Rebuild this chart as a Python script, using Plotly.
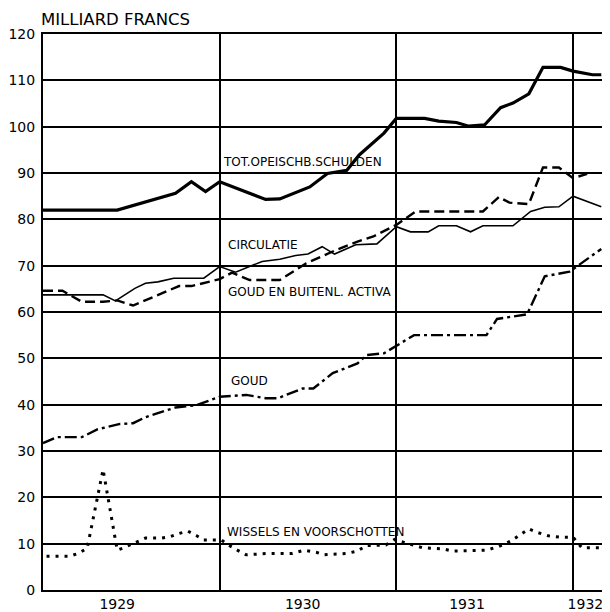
import plotly.graph_objects as go

# ---- data (fractional years, milliard francs) ----
schulden_x = [1929.00, 1929.42, 1929.75, 1929.84, 1929.92, 1930.00, 1930.26, 1930.34, 1930.51,
              1930.61, 1930.72, 1930.79, 1930.93, 1931.00, 1931.16, 1931.24, 1931.34, 1931.41,
              1931.50, 1931.59, 1931.66, 1931.75, 1931.83, 1931.93, 1932.00, 1932.11, 1932.16]
schulden_y = [82.0, 82.0, 85.6, 88.1, 86.0, 88.1, 84.3, 84.4, 87.0,
              89.9, 90.6, 93.9, 98.6, 101.8, 101.8, 101.2, 100.9, 100.1,
              100.4, 104.1, 105.1, 107.1, 112.8, 112.8, 112.0, 111.2, 111.2]

circ_x = [1929.00, 1929.34, 1929.41, 1929.52, 1929.58, 1929.65, 1929.74, 1929.91, 1930.00,
          1930.09, 1930.24, 1930.34, 1930.43, 1930.50, 1930.58, 1930.65, 1930.77, 1930.89,
          1931.00, 1931.08, 1931.18, 1931.24, 1931.34, 1931.42, 1931.49, 1931.66, 1931.76,
          1931.84, 1931.92, 1932.00, 1932.16]
circ_y = [63.7, 63.7, 62.4, 65.1, 66.2, 66.5, 67.3, 67.3, 69.8,
          68.6, 70.9, 71.4, 72.2, 72.5, 74.1, 72.5, 74.5, 74.7,
          78.4, 77.3, 77.3, 78.6, 78.6, 77.3, 78.6, 78.6, 81.7,
          82.6, 82.7, 85.0, 82.7]

activa_x = [1929.00, 1929.11, 1929.22, 1929.34, 1929.42, 1929.51, 1929.77, 1929.84, 1929.96,
            1930.00, 1930.07, 1930.17, 1930.34, 1930.49, 1930.66, 1930.78, 1930.87, 1931.00,
            1931.11, 1931.49, 1931.58, 1931.64, 1931.75, 1931.83, 1931.92, 1932.00, 1932.08]
activa_y = [64.6, 64.6, 62.2, 62.2, 62.5, 61.4, 65.6, 65.6, 66.7,
            67.1, 68.5, 66.9, 66.9, 70.5, 73.4, 75.2, 76.3, 78.8,
            81.7, 81.7, 84.8, 83.6, 83.3, 91.2, 91.2, 88.9, 89.8]

goud_x = [1929.00, 1929.08, 1929.22, 1929.31, 1929.43, 1929.51, 1929.58, 1929.75, 1929.87,
          1930.00, 1930.15, 1930.26, 1930.33, 1930.47, 1930.53, 1930.64, 1930.78, 1930.83,
          1930.93, 1931.01, 1931.10, 1931.51, 1931.57, 1931.74, 1931.84, 1931.98, 1932.04,
          1932.16]
goud_y = [31.7, 33.0, 33.0, 34.7, 35.8, 36.0, 37.3, 39.4, 39.9,
          41.7, 42.1, 41.4, 41.4, 43.5, 43.5, 46.8, 48.9, 50.7,
          51.1, 53.0, 55.0, 55.0, 58.5, 59.5, 67.7, 68.7, 70.3,
          73.6]

wissels_x = [1929.02, 1929.15, 1929.20, 1929.25, 1929.34, 1929.42, 1929.45, 1929.53, 1929.58,
             1929.67, 1929.72, 1929.77, 1929.82, 1929.87, 1929.91, 1930.01, 1930.05, 1930.10,
             1930.15, 1930.28, 1930.41, 1930.48, 1930.55, 1930.59, 1930.72, 1930.78, 1930.83,
             1930.94, 1930.99, 1931.04, 1931.10, 1931.15, 1931.26, 1931.32, 1931.51, 1931.58,
             1931.65, 1931.70, 1931.75, 1931.80, 1931.86, 1931.93, 1932.00, 1932.05, 1932.16]
wissels_y = [7.3, 7.3, 7.9, 9.0, 26.0, 8.6, 9.0, 10.4, 11.2,
             11.2, 11.5, 12.2, 12.7, 11.7, 10.8, 10.8, 9.7, 8.6,
             7.6, 7.9, 7.9, 8.6, 8.1, 7.6, 7.9, 8.4, 9.6,
             9.7, 10.9, 10.3, 9.6, 9.1, 8.9, 8.4, 8.6, 9.4,
             10.6, 11.9, 13.2, 12.4, 11.7, 11.4, 11.4, 9.1, 9.1]

year_labels = ["1929", "1930", "1931", "1932"]
year_label_pos = [1929.42, 1930.47, 1931.40, 1932.07]
year_bounds = [1930, 1931, 1932]
y_ticks = list(range(0, 121, 10))

series_labels = [
    ("TOT.OPEISCHB.SCHULDEN", 1930.005, 92.4),
    ("CIRCULATIE", 1930.035, 74.5),
    ("GOUD EN BUITENL. ACTIVA", 1930.035, 64.4),
    ("GOUD", 1930.05, 45.1),
    ("WISSELS EN VOORSCHOTTEN", 1930.03, 12.6),
]

FONT = "DejaVu Sans"

fig = go.Figure()
fig.add_trace(go.Scatter(x=schulden_x, y=schulden_y, mode="lines",
                         line=dict(color="black", width=3.2)))
fig.add_trace(go.Scatter(x=circ_x, y=circ_y, mode="lines",
                         line=dict(color="black", width=1.6)))
fig.add_trace(go.Scatter(x=activa_x, y=activa_y, mode="lines",
                         line=dict(color="black", width=2.4, dash="10px,5px")))
fig.add_trace(go.Scatter(x=goud_x, y=goud_y, mode="lines",
                         line=dict(color="black", width=2.4, dash="12px,4px,3px,4px")))
fig.add_trace(go.Scatter(x=wissels_x, y=wissels_y, mode="lines",
                         line=dict(color="black", width=3, dash="3px,6px")))

for text, x, y in series_labels:
    fig.add_annotation(x=x, y=y, text=text, showarrow=False, xanchor="left",
                       yanchor="middle", font=dict(family=FONT, size=12, color="black"))

fig.add_annotation(x=0, y=1, xref="paper", yref="paper", text="MILLIARD FRANCS",
                   showarrow=False, xanchor="left", yanchor="bottom", yshift=3, xshift=-4,
                   font=dict(family=FONT, size=16.5, color="black"))

# page body adds an 8px offset, so the figure is 8px smaller and margins shifted
fig.update_layout(
    template="none",
    width=602, height=604,
    margin=dict(l=35, r=8, t=26, b=22, autoexpand=False),
    paper_bgcolor="white", plot_bgcolor="white",
    showlegend=False,
    xaxis=dict(range=[1929, 1932.164], tickmode="array", tickvals=year_label_pos,
               ticktext=year_labels, showgrid=False, zeroline=False, ticks="",
               automargin=False,
               showline=True, linecolor="black", linewidth=2, mirror=True,
               tickfont=dict(family=FONT, size=14, color="black"),
               minor=dict(tickmode="array", tickvals=year_bounds, showgrid=True,
                          gridcolor="black", gridwidth=2, ticks="")),
    yaxis=dict(range=[0, 120], tickmode="array", tickvals=y_ticks,
               showgrid=True, gridcolor="black", gridwidth=1.8, zeroline=False, ticks="",
               automargin=False, ticklabelstandoff=3,
               showline=True, linecolor="black", linewidth=2, mirror=True,
               tickfont=dict(family=FONT, size=14, color="black")),
)

fig.write_html("out.html")
